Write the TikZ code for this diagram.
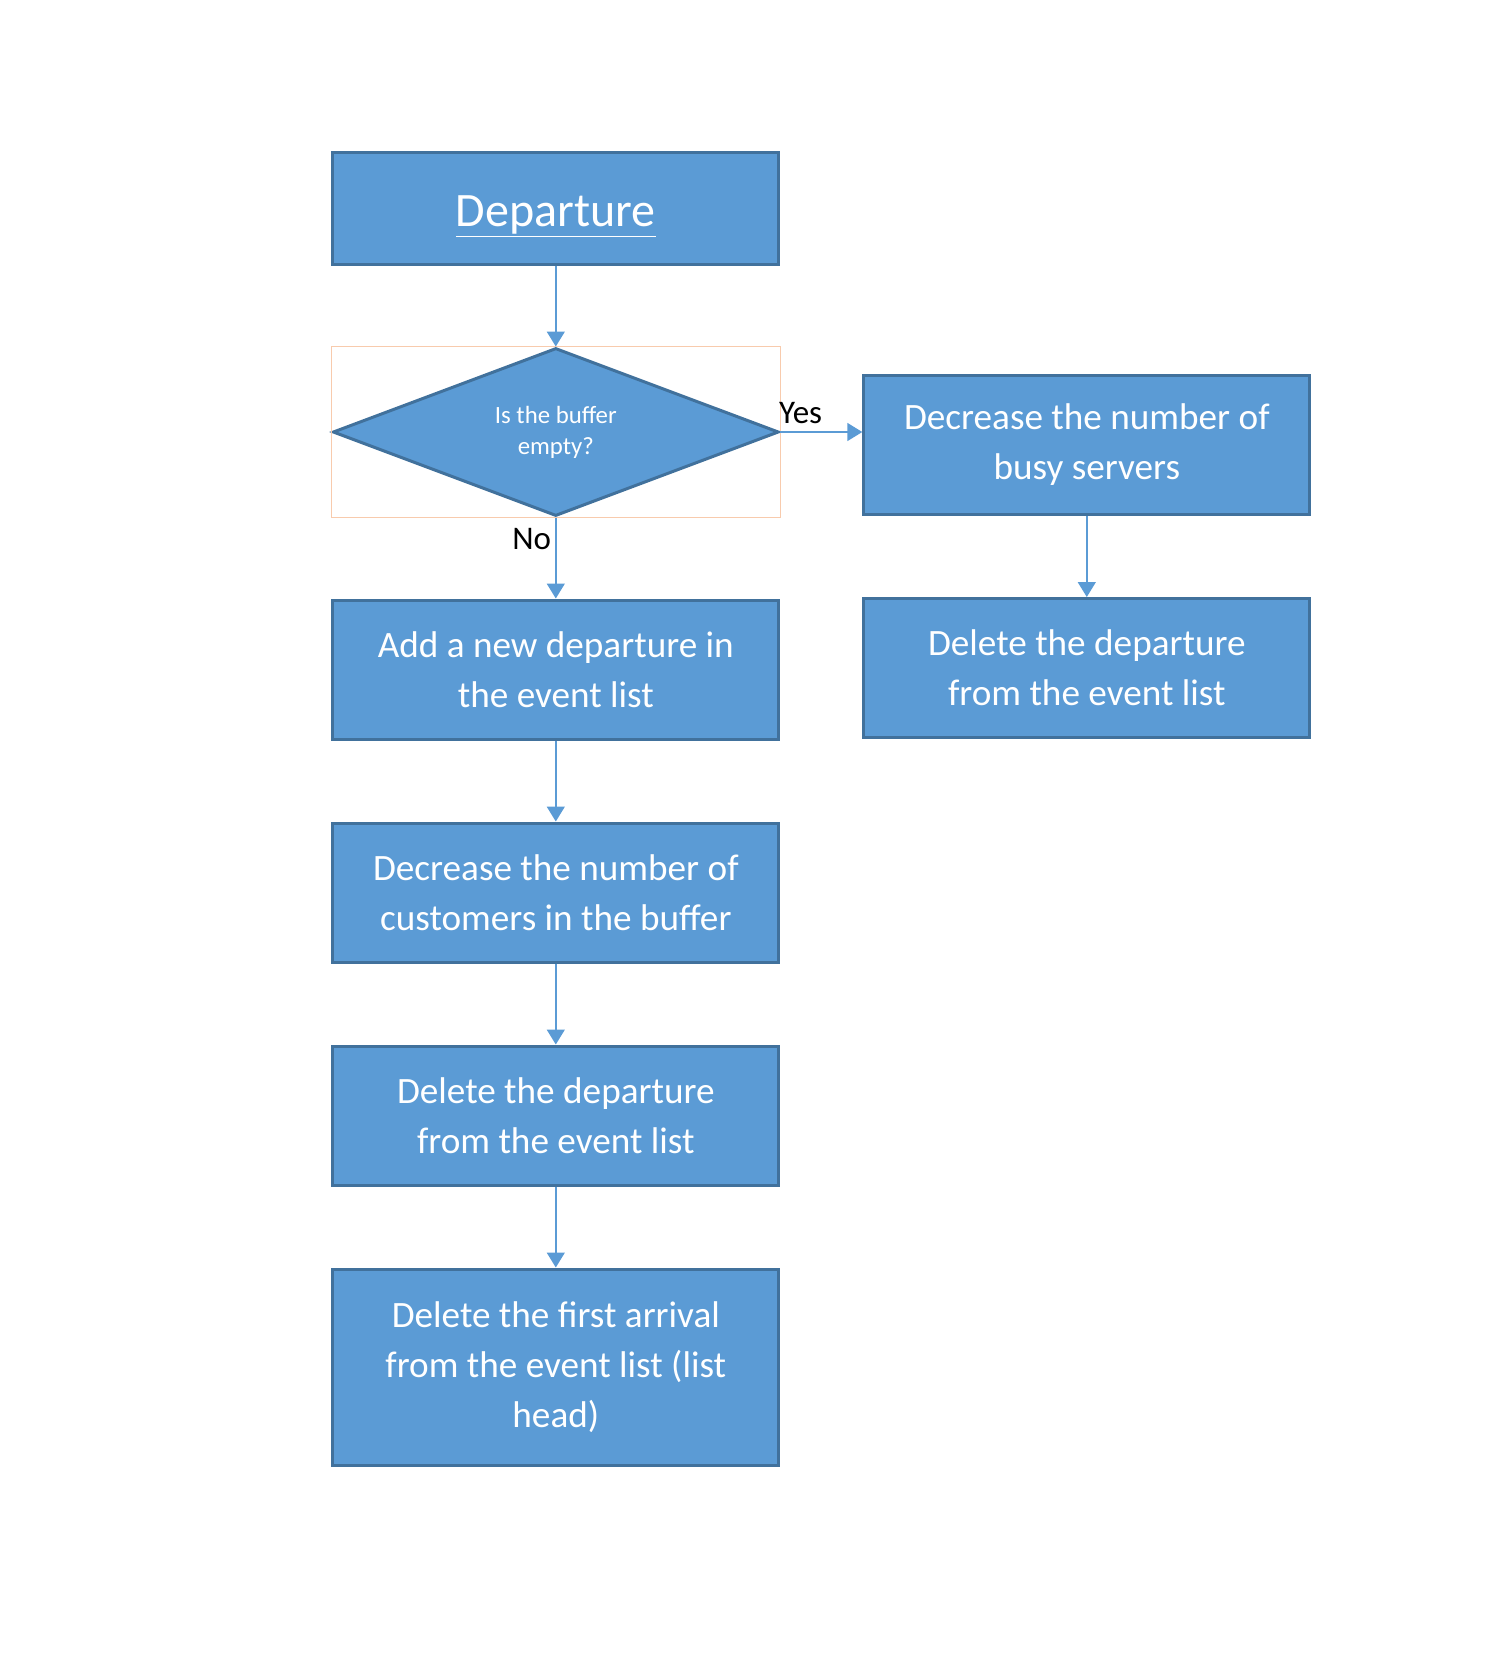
\documentclass[tikz,border=0pt]{standalone}
\usepackage{fontspec}
\setmainfont{Carlito}
\usetikzlibrary{arrows.meta,positioning,shapes.geometric}

\definecolor{boxfill}{HTML}{5B9BD5}
\definecolor{boxline}{HTML}{41719C}
\definecolor{selline}{HTML}{F8CBAD}

\begin{document}
\begin{tikzpicture}[
            > = {Triangle[width=9pt,length=7.5pt]}, % arrow head style
            node distance = 40.5pt and 41pt, % gap between boxes
            stepbox/.style = {rectangle, draw=boxline, fill=boxfill, line width=1.5pt,
                minimum width=223pt, minimum height=69.5pt, text=white, align=center,
                font=\fontsize{18.6}{25}\selectfont},
            testbox/.style = {diamond, draw=boxline, fill=boxfill, line width=1.5pt,
                minimum width=223pt, minimum height=84pt, inner sep=0pt, aspect=2.65,
                text=white, align=center, font=\fontsize{12.4}{15.5}\selectfont},
            flow/.style = {->, draw=boxfill, line width=0.75pt},
            lbl/.style = {text=black, font=\fontsize{16.5}{20}\selectfont}
        ]
	\useasboundingbox (0,0) rectangle (743pt,-839pt);

	\node[stepbox, minimum height=56pt, text height=20pt, text depth=2pt,
		font=\fontsize{24}{28}\selectfont] (dep) at (277.9pt,-104pt) {\underline{Departure}};
	\node[testbox] (dia) [below=of dep] {Is the buffer\\empty?};
	\draw[selline, line width=0.75pt] (dia.west |- dia.north) rectangle (dia.east |- dia.south);

	\node[stepbox] (add) [below=of dia] {Add a new departure in\\the event list};
	\node[stepbox] (cust) [below=of add] {Decrease the number of\\customers in the buffer};
	\node[stepbox] (deldep) [below=of cust] {Delete the departure\\from the event list};
	\node[stepbox, minimum height=98pt] (delarr) [below=of deldep] {Delete the first arrival\\from the event list (list\\head)};

	\node[stepbox] (busy) [right=of dia, yshift=-6.5pt] {Decrease the number of\\busy servers};
	\node[stepbox] (delbusy) [below=of busy] {Delete the departure\\from the event list};

	% connectors
	\draw[flow] (dep) -- (dia);
	\draw[flow] (dia.east) -- (dia.east -| busy.west) node[lbl, pos=0, anchor=south west, inner sep=0pt, yshift=4pt, xshift=-1pt] {Yes};
	\draw[flow] (dia.south) -- node[lbl, pos=0, anchor=north east, inner sep=2pt, yshift=-3pt] {No} (add.north);
	\draw[flow] (add) -- (cust);
	\draw[flow] (cust) -- (deldep);
	\draw[flow] (deldep) -- (delarr);
	\draw[flow] (busy) -- (delbusy);
\end{tikzpicture}
\end{document}
